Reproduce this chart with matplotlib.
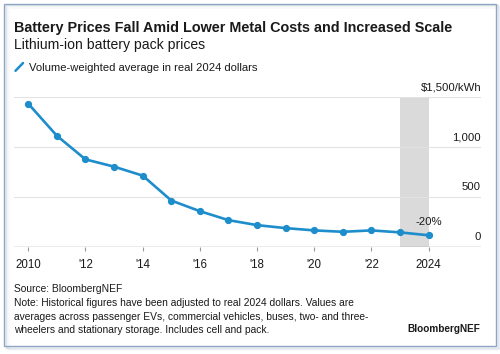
import matplotlib
matplotlib.use("Agg")
import matplotlib.pyplot as plt
from matplotlib.patches import FancyBboxPatch
from matplotlib.lines import Line2D
from matplotlib.transforms import offset_copy

# data
years = [2010, 2011, 2012, 2013, 2014, 2015, 2016, 2017, 2018, 2019,
         2020, 2021, 2022, 2023, 2024]
prices = [1436, 1114, 877, 804, 714, 464, 357, 267, 217, 187,
          164, 150, 164, 144, 115]
xticks = [2010, 2012, 2014, 2016, 2018, 2020, 2022, 2024]
xtick_labels = ["2010", "'12", "'14", "'16", "'18", "'20", "'22", "2024"]
yticks = [0, 500, 1000, 1500]
ytick_labels = ["0", "500", "1,000", "$1,500/kWh"]
note_lines = [
    "Note: Historical figures have been adjusted to real 2024 dollars. Values are",
    "averages across passenger EVs, commercial vehicles, buses, two- and three-",
    "wheelers and stationary storage. Includes cell and pack.",
]

BLUE = "#1d8dcb"
TXT = "#1a1a1a"
FONT = ["Liberation Sans", "DejaVu Sans"]
plt.rcParams["font.family"] = FONT

fig = plt.figure(figsize=(5, 3.54), dpi=100)
fig.patch.set_facecolor("white")

# card border with soft shadow
for i, a in enumerate([0.10, 0.07, 0.04]):
    fig.patches.append(FancyBboxPatch((0.008 + 0.003 * (i + 1), 0.022 - 0.004 * (i + 1)), 0.984, 0.968,
                                      boxstyle="square,pad=0", transform=fig.transFigure,
                                      facecolor="none", edgecolor=(0.2, 0.3, 0.45, a), lw=1.2))
fig.patches.append(FancyBboxPatch((0.008, 0.022), 0.984, 0.968, boxstyle="square,pad=0",
                                  transform=fig.transFigure, facecolor="none",
                                  edgecolor="#8ea6c6", lw=1.0))

ax = fig.add_axes([0.028, 0.303, 0.934, 0.422])
ax.set_xlim(2009.5, 2025.83)
ax.set_ylim(0, 1500)

# highlight of last year
ax.axvspan(2023, 2024, ymin=0, ymax=1, color="#dadada", lw=0, zorder=0)

for y in yticks[1:]:
    ax.axhline(y, color="#e2e2e2", lw=0.8, zorder=1)
ax.axhline(0, color="#9a9a9a", lw=1.0, zorder=2)

ax.plot(years, prices, color=BLUE, lw=1.9, marker="o", markersize=4.2,
        solid_joinstyle="round", zorder=3)

ax.text(2024, 250, "-20%", ha="center", va="center", fontsize=8.2, color=TXT)

# y labels sit above their gridlines at the right
lbl_tr = offset_copy(ax.get_yaxis_transform(), fig=fig, x=0, y=5, units="dots")
for y, s in zip(yticks, ytick_labels):
    ax.text(1.0, y, s, transform=lbl_tr, ha="right", va="bottom", fontsize=8.2, color=TXT)

for s in ax.spines.values():
    s.set_visible(False)
ax.set_yticks([])
ax.set_xticks(xticks)
ax.set_xticklabels(xtick_labels, fontsize=8.3, color=TXT)
ax.tick_params(axis="x", length=3, width=0.8, color="#9a9a9a", pad=6)
ax.set_facecolor("none")

# header
fig.text(0.028, 0.922, "Battery Prices Fall Amid Lower Metal Costs and Increased Scale",
         fontsize=10.35, fontweight="bold", color=TXT, va="center")
fig.text(0.028, 0.874, "Lithium-ion battery pack prices", fontsize=10.1, color=TXT, va="center")
fig.lines.append(Line2D([0.031, 0.046], [0.800, 0.822], transform=fig.transFigure,
                        color=BLUE, lw=1.8, solid_capstyle="round"))
fig.text(0.058, 0.808, "Volume-weighted average in real 2024 dollars", fontsize=8.15,
         color=TXT, va="center")

# footer
fig.text(0.028, 0.184, "Source: BloombergNEF", fontsize=7.4, color=TXT, va="center")
for i, line in enumerate(note_lines):
    fig.text(0.028, 0.144 - i * 0.0385, line, fontsize=7.4, color=TXT, va="center")
fig.text(0.960, 0.070, "BloombergNEF", fontsize=7.2, fontweight="bold", color=TXT,
         ha="right", va="center")

fig.savefig("out.png", dpi=100)
